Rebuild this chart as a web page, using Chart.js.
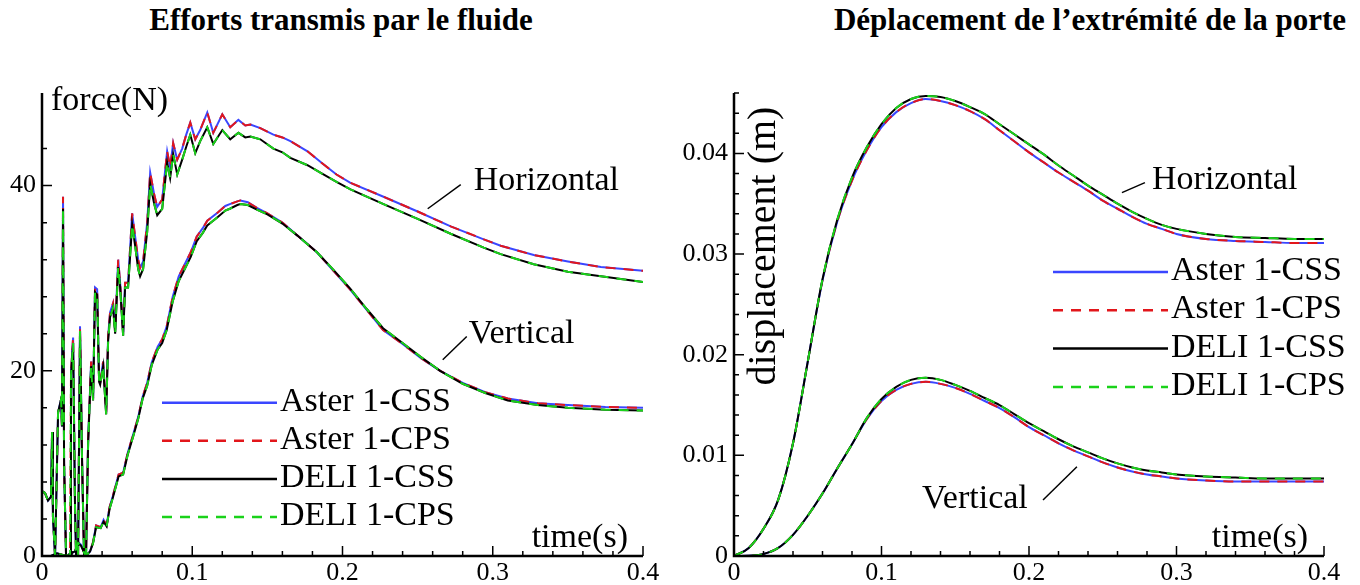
<!DOCTYPE html>
<html>
<head>
<meta charset="utf-8">
<script src="https://cdn.jsdelivr.net/npm/chart.js@4.4.1/dist/chart.umd.min.js"></script>
<style>
	body { margin: 0; background: #fff; width: 1360px; height: 585px; overflow: hidden; position: relative; font-family: "Liberation Serif", serif; }
	.title { position: absolute; top: 4px; font-weight: bold; font-size: 31px; line-height: 31px; white-space: nowrap; transform: translateX(-50%); color: #000; }
	canvas { position: absolute; top: 0; }
</style>
</head>
<body>
<div class="title" style="left:341px">Efforts transmis par le fluide</div>
<div class="title" style="left:1090px">Déplacement de l’extrémité de la porte</div>
<canvas id="forceChart" width="680" height="585" style="left:0"></canvas>
<canvas id="dispChart" width="680" height="585" style="left:680px"></canvas>
<script>
// --- Series names (CSS / CPS runs of each code) ---
const seriesNames = ["Aster 1-CSS", "Aster 1-CPS", "DELI 1-CSS", "DELI 1-CPS"];

// --- Tick labels ---
const timeTickLabels = [0, 0.1, 0.2, 0.3, 0.4];
const forceTickLabels = [0, 20, 40];
const dispTickLabels = [0, 0.01, 0.02, 0.03, 0.04];

// --- Horizontal force (N) ---
const forceHTime = [
	0, 0.002, 0.004, 0.006, 0.0067, 0.0073, 0.0087, 0.0107, 0.0127, 0.0133,
	0.014, 0.0147, 0.016, 0.0187, 0.0193, 0.0207, 0.022, 0.0227, 0.024, 0.0253,
	0.0267, 0.028, 0.0293, 0.0307, 0.0327, 0.034, 0.0353, 0.0367, 0.038, 0.0387,
	0.0407, 0.0427, 0.044, 0.0453, 0.0473, 0.0487, 0.0507, 0.052, 0.054, 0.0553,
	0.0573, 0.06, 0.062, 0.064, 0.0653, 0.0673, 0.07, 0.072, 0.0747, 0.0767,
	0.08, 0.082, 0.0833, 0.0853, 0.0873, 0.09, 0.0933, 0.096, 0.0987, 0.102,
	0.1053, 0.11, 0.114, 0.12, 0.1253, 0.1307, 0.1353, 0.1387, 0.1453, 0.154,
	0.16, 0.1653, 0.1767, 0.1873, 0.196, 0.2053, 0.2273, 0.25, 0.272, 0.294,
	0.3053, 0.3273, 0.35, 0.372, 0.4,
];
const forceHAster = [
	7.0, 6.8, 6.0, 6.4, 13.4, 4.2, 0, 15.5, 16.9, 14.0,
	38.8, 10.0, 0, 0, 19.8, 23.6, 5.0, 0, 0, 24.8,
	10.0, 0, 0, 12.5, 21.0, 17.0, 29.0, 28.8, 19.0, 18.7,
	21.0, 15.5, 23.7, 26.3, 27.3, 24.4, 32.0, 29.5, 24.1, 29.5,
	29.5, 37.0, 34.5, 32.0, 31.1, 31.8, 36.0, 41.4, 39.0, 37.7,
	38.5, 41.7, 43.7, 42.0, 44.6, 42.8, 44.0, 45.5, 46.8, 45.0,
	46.0, 47.9, 45.7, 47.7, 46.3, 47.1, 46.5, 46.6, 46.2, 45.5,
	45.2, 44.8, 43.7, 42.3, 41.2, 40.3, 38.8, 37.2, 35.6, 34.2,
	33.5, 32.5, 31.8, 31.2, 30.8,
];
const forceHDeli = [
	7.0, 6.8, 6.0, 6.4, 13.4, 4.2, 0, 15.5, 16.9, 14.0,
	37.5, 10.0, 0, 0, 19.5, 23.0, 5.0, 0, 0, 24.3,
	10.0, 0, 0, 12.2, 20.5, 16.8, 28.5, 28.2, 18.8, 18.5,
	20.5, 15.3, 23.2, 25.8, 26.8, 24.0, 31.2, 29.0, 23.8, 29.0,
	29.0, 35.8, 33.5, 31.0, 30.2, 31.0, 35.0, 40.2, 38.0, 36.8,
	37.5, 40.5, 42.5, 40.8, 43.4, 41.2, 42.8, 44.2, 45.5, 43.5,
	44.8, 46.3, 44.5, 46.0, 45.0, 45.7, 45.2, 45.3, 45.0, 44.0,
	43.6, 43.0, 42.2, 41.2, 40.4, 39.6, 38.0, 36.4, 34.8, 33.3,
	32.6, 31.5, 30.7, 30.2, 29.6,
];

// --- Vertical force (N) ---
const forceVTime = [
	0, 0.006, 0.01, 0.016, 0.022, 0.024, 0.026, 0.029, 0.032, 0.034,
	0.036, 0.039, 0.041, 0.043, 0.045, 0.047, 0.051, 0.054, 0.057, 0.061,
	0.064, 0.067, 0.07, 0.073, 0.077, 0.08, 0.083, 0.087, 0.091, 0.095,
	0.099, 0.103, 0.107, 0.11, 0.117, 0.122, 0.125, 0.13, 0.132, 0.137,
	0.143, 0.15, 0.16, 0.17, 0.183, 0.194, 0.205, 0.216, 0.227, 0.24,
	0.252, 0.265, 0.28, 0.295, 0.31, 0.33, 0.35, 0.375, 0.4,
];
const forceVAster = [
	0, 0, 0.3, 0, 0.5, 1.5, 1.2, 0, 0.5, 1.5,
	3.3, 3.1, 3.9, 3.3, 5.3, 6.4, 8.8, 9.0, 11.1, 13.3,
	15.0, 17.2, 18.7, 20.9, 22.6, 23.4, 24.8, 28.0, 30.2, 31.5,
	32.8, 34.5, 35.4, 36.2, 37.1, 37.8, 38.0, 38.3, 38.4, 38.2,
	37.6, 37.0, 36.0, 34.6, 32.8, 30.8, 28.8, 26.6, 24.4, 22.9,
	21.4, 20.0, 18.7, 17.7, 17.0, 16.5, 16.3, 16.1, 16.0,
];
const forceVDeli = [
	0, 0, 0.3, 0, 0.5, 1.4, 1.1, 0, 0.5, 1.4,
	3.1, 3.0, 3.7, 3.2, 5.1, 6.2, 8.6, 8.8, 10.9, 13.1,
	14.8, 17.0, 18.4, 20.6, 22.3, 23.0, 24.4, 27.5, 29.7, 31.0,
	32.3, 34.0, 34.9, 35.7, 36.6, 37.3, 37.5, 37.9, 38.0, 37.9,
	37.4, 36.9, 35.9, 34.6, 32.8, 30.9, 28.9, 26.7, 24.6, 23.0,
	21.5, 20.0, 18.6, 17.6, 16.8, 16.3, 16.0, 15.8, 15.7,
];

// --- Door tip displacement (m) ---
const dispTime = [
	0, 0.01, 0.02, 0.03, 0.04, 0.05, 0.06, 0.07, 0.08, 0.09,
	0.1, 0.11, 0.12, 0.13, 0.14, 0.15, 0.16, 0.17, 0.18, 0.19,
	0.2, 0.21, 0.22, 0.23, 0.24, 0.25, 0.26, 0.27, 0.28, 0.29,
	0.3, 0.32, 0.34, 0.36, 0.38, 0.4,
];
const dispHAster = [
	0, 0.0008, 0.0027, 0.0056, 0.0112, 0.0193, 0.0274, 0.0332, 0.0373, 0.0403,
	0.0426, 0.0441, 0.045, 0.0454, 0.0452, 0.0448, 0.0442, 0.0434, 0.0423, 0.0412,
	0.0401, 0.0391, 0.0381, 0.0372, 0.0363, 0.0353, 0.0345, 0.0337, 0.033, 0.0325,
	0.032, 0.0315, 0.0313, 0.0312, 0.0311, 0.0311,
];
const dispHDeli = [
	0, 0.0008, 0.0027, 0.0056, 0.0112, 0.0193, 0.0275, 0.0334, 0.0376, 0.0406,
	0.0429, 0.0445, 0.0454, 0.0457, 0.0456, 0.0452, 0.0446, 0.0439, 0.0429, 0.0419,
	0.0409, 0.0399, 0.0388, 0.0378, 0.0368, 0.0359, 0.035, 0.0342, 0.0335, 0.0329,
	0.0325, 0.032, 0.0317, 0.0316, 0.0315, 0.0315,
];
const dispVAster = [
	0, 0.00002, 0.0002, 0.0008, 0.0021, 0.004, 0.0062, 0.0087, 0.0111, 0.0136,
	0.0154, 0.0165, 0.0171, 0.0173, 0.0171, 0.0167, 0.0161, 0.0154, 0.0147, 0.0138,
	0.0128, 0.012, 0.0112, 0.0105, 0.0099, 0.0093, 0.0088, 0.0084, 0.0081, 0.0079,
	0.0077, 0.0075, 0.0074, 0.0074, 0.0074, 0.0074,
];
const dispVDeli = [
	0, 0.00002, 0.0002, 0.0008, 0.0021, 0.004, 0.0062, 0.0087, 0.0111, 0.0137,
	0.0156, 0.0168, 0.0175, 0.0177, 0.0175, 0.017, 0.0164, 0.0157, 0.015, 0.0141,
	0.0132, 0.0124, 0.0116, 0.0109, 0.0103, 0.0097, 0.0092, 0.0088, 0.0085, 0.0083,
	0.0081, 0.0079, 0.0078, 0.0077, 0.0077, 0.0077,
];

// line styles: dashed CPS drawn over the solid CSS of the same code
const SERIES = [
	{ color: "#3a46ff", dash: [], order: 3 },
	{ color: "#e2161b", dash: [10, 8], order: 2 },
	{ color: "#000000", dash: [], order: 1 },
	{ color: "#1ad21a", dash: [10, 8], order: 0 },
];

const TICK_FONT = { family: "Liberation Serif", size: 26 };
const LABEL_FONT = '34px "Liberation Serif"';

function curve(xs, ys, s, label, smooth) {
	return {
		label: label,
		data: xs.map((t, i) => ({ x: t, y: ys[i] })),
		borderColor: s.color,
		borderDash: s.dash,
		borderWidth: 2,
		pointRadius: 0,
		fill: false,
		tension: 0,
		cubicInterpolationMode: smooth ? "monotone" : "default",
		order: s.order,
	};
}

// builds the 4 CSS/CPS curves of one quantity (CPS overlays CSS)
function group(xs, aster, deli, smooth) {
	return [
		curve(xs, aster, SERIES[0], seriesNames[0], smooth),
		curve(xs, aster, SERIES[1], seriesNames[1], smooth),
		curve(xs, deli, SERIES[2], seriesNames[2], smooth),
		curve(xs, deli, SERIES[3], seriesNames[3], smooth),
	];
}

function labelFrom(list) {
	return function (value) {
		const hit = list.find((t) => Math.abs(t - value) < 1e-9);
		return hit === undefined ? "" : String(hit);
	};
}

// --- axis lines with inward major/minor ticks ---
const axisFrame = {
	id: "axisFrame",
	afterDatasetsDraw(chart) {
		const { ctx, chartArea: a, scales } = chart;
		ctx.save();
		ctx.strokeStyle = "#000";
		ctx.setLineDash([]);
		ctx.lineWidth = 1.5;
		ctx.beginPath();
		scales.x.ticks.forEach((t) => {
			const px = scales.x.getPixelForValue(t.value);
			const len = t.label ? 10 : 5;
			ctx.moveTo(px, a.bottom);
			ctx.lineTo(px, a.bottom - len);
		});
		scales.y.ticks.forEach((t) => {
			const py = scales.y.getPixelForValue(t.value);
			const len = t.label ? 10 : 5;
			ctx.moveTo(a.left, py);
			ctx.lineTo(a.left + len, py);
		});
		ctx.stroke();
		ctx.lineWidth = 2.5;
		ctx.beginPath();
		ctx.moveTo(a.left, a.top);
		ctx.lineTo(a.left, a.bottom);
		ctx.lineTo(a.right, a.bottom);
		ctx.stroke();
		ctx.restore();
	},
};

// --- legend drawn inside the plot from the first four datasets ---
const lineKey = {
	id: "lineKey",
	afterDraw(chart, args, opts) {
		const { ctx } = chart;
		ctx.save();
		ctx.font = LABEL_FONT;
		ctx.fillStyle = "#000";
		ctx.textBaseline = "alphabetic";
		chart.data.datasets.slice(0, 4).forEach((ds, i) => {
			const yy = opts.top + i * opts.gap;
			ctx.strokeStyle = ds.borderColor;
			ctx.lineWidth = 2.5;
			ctx.setLineDash(ds.borderDash);
			ctx.beginPath();
			ctx.moveTo(opts.left, yy);
			ctx.lineTo(opts.left + opts.length, yy);
			ctx.stroke();
			ctx.fillText(ds.label, opts.left + opts.length + 3, yy + 8);
		});
		ctx.restore();
	},
};

// --- axis titles and curve annotations, placed in data coordinates ---
const notes = {
	id: "notes",
	afterDraw(chart, args, opts) {
		const { ctx, scales: { x, y } } = chart;
		ctx.save();
		ctx.fillStyle = "#000";
		ctx.strokeStyle = "#000";
		ctx.lineWidth = 1.5;
		ctx.setLineDash([]);
		(opts.items || []).forEach((n) => {
			if (n.lead) {
				ctx.beginPath();
				ctx.moveTo(x.getPixelForValue(n.lead[0]), y.getPixelForValue(n.lead[1]));
				ctx.lineTo(x.getPixelForValue(n.lead[2]), y.getPixelForValue(n.lead[3]));
				ctx.stroke();
			}
			ctx.save();
			ctx.translate(x.getPixelForValue(n.x), y.getPixelForValue(n.y));
			if (n.rotate) ctx.rotate(n.rotate);
			ctx.font = n.font || LABEL_FONT;
			ctx.textAlign = n.align || "left";
			ctx.textBaseline = "alphabetic";
			ctx.fillText(n.text, 0, 0);
			ctx.restore();
		});
		ctx.restore();
	},
};

function frame(cfg) {
	return {
		responsive: false,
		animation: false,
		events: [],
		layout: { padding: { top: 93, right: cfg.padRight, left: 0, bottom: 0 } },
		scales: {
			x: {
				type: "linear",
				min: 0,
				max: 0.4,
				grid: { display: false, drawTicks: false },
				border: { display: false },
				ticks: {
					stepSize: 0.02,
					maxTicksLimit: 100,
					autoSkip: false,
					maxRotation: 0,
					padding: 2,
					color: "#000",
					font: TICK_FONT,
					callback: labelFrom(timeTickLabels),
				},
				afterFit: (s) => { s.height = 29; },
			},
			y: {
				type: "linear",
				min: 0,
				max: cfg.yMax,
				grid: { display: false, drawTicks: false },
				border: { display: false },
				ticks: {
					stepSize: cfg.yStep,
					maxTicksLimit: 100,
					autoSkip: false,
					padding: 6,
					color: "#000",
					font: TICK_FONT,
					callback: labelFrom(cfg.yLabels),
				},
				afterBuildTicks: (s) => {
					s.ticks = s.ticks.filter((t) => Math.abs(t.value / cfg.yStep - Math.round(t.value / cfg.yStep)) < 1e-6);
				},
				afterFit: (s) => { s.width = cfg.yWidth; },
			},
		},
		plugins: {
			legend: { display: false },
			tooltip: { enabled: false },
			lineKey: cfg.key,
			notes: { items: cfg.notes },
		},
	};
}

// --- Force transmitted by the fluid ---
new Chart(document.getElementById("forceChart"), {
	type: "line",
	data: {
		datasets: [
			...group(forceHTime, forceHAster, forceHDeli, false),
			...group(forceVTime, forceVAster, forceVDeli, false),
		],
	},
	options: frame({
		yMax: 50,
		yStep: 4,
		yLabels: forceTickLabels,
		yWidth: 42,
		padRight: 37,
		key: { left: 162, top: 402.7, gap: 38.1, length: 115 },
		notes: [
			{ text: "force(N)", x: 0.006, y: 48.2 },
			{ text: "time(s)", x: 0.39, y: 0.97, align: "right" },
			{ text: "Horizontal", x: 0.2873, y: 39.57, lead: [0.2567, 37.5, 0.2787, 40.1] },
			{ text: "Vertical", x: 0.284, y: 23.0, lead: [0.2667, 21.2, 0.2827, 23.7] },
		],
	}),
	plugins: [axisFrame, lineKey, notes],
});

// --- Displacement of the door tip ---
new Chart(document.getElementById("dispChart"), {
	type: "line",
	data: {
		datasets: [
			...group(dispTime, dispHAster, dispHDeli, true),
			...group(dispTime, dispVAster, dispVDeli, true),
		],
	},
	options: frame({
		yMax: 0.046,
		yStep: 0.002,
		yLabels: dispTickLabels,
		yWidth: 54,
		padRight: 36,
		key: { left: 373, top: 272, gap: 38.3, length: 115 },
		notes: [
			{ text: "displacement (m)", x: 0.0278, y: 0.0308, rotate: -Math.PI / 2, align: "center", font: '40px "Liberation Serif"' },
			{ text: "time(s)", x: 0.3892, y: 0.0009, align: "right" },
			{ text: "Horizontal", x: 0.2834, y: 0.03642, lead: [0.263, 0.0361, 0.2786, 0.0371] },
			{ text: "Vertical", x: 0.1275, y: 0.00478, lead: [0.2095, 0.00557, 0.2325, 0.00886] },
		],
	}),
	plugins: [axisFrame, lineKey, notes],
});
</script>
</body>
</html>
